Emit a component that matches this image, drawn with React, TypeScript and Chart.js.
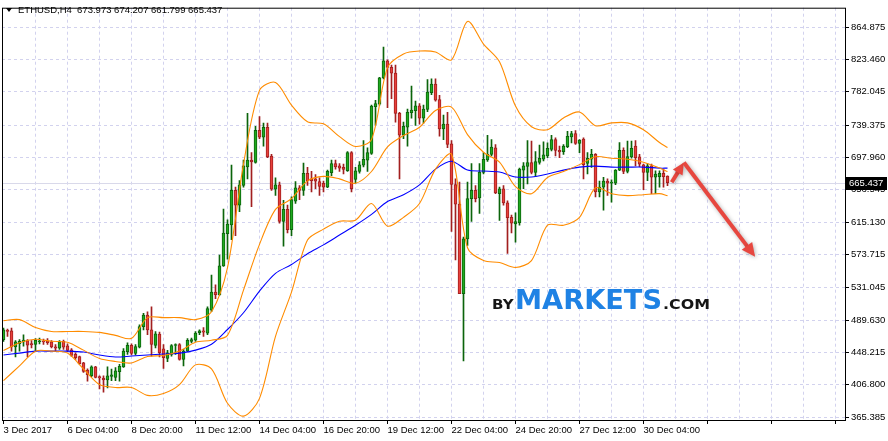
import React, { useEffect, useRef } from 'react';
import { Chart, registerables } from 'chart.js';

Chart.register(...registerables);

// ---------- data ----------
const opens = [464.5,476.7,475.9,455.3,459.5,461.6,463.3,459.5,458.3,462.0,
462.4,462.4,461.6,455.3,453.6,462.4,456.6,451.5,445.6,442.7,
434.7,425.5,418.3,429.7,417.1,415.4,412.9,417.5,416.2,423.4,
429.7,449.0,457.4,446.9,454.9,481.3,496.0,477.1,457.0,471.7,
452.8,440.6,445.6,457.0,458.3,439.3,449.9,462.4,463.7,473.4,
475.9,472.9,502.4,525.5,522.1,559.1,600.2,611.6,655.7,636.8,
662.0,685.9,694.4,691.4,732.6,723.8,736.4,699.8,657.4,662.8,
615.8,631.3,605.3,641.8,659.1,655.7,677.5,670.4,670.4,667.0,
664.9,659.9,678.4,690.1,687.2,685.1,680.9,704.0,669.6,680.1,
688.1,694.4,703.2,762.8,766.2,799.8,821.6,813.2,806.1,754.4,
726.3,736.8,755.2,757.8,764.1,748.1,759.5,780.9,791.8,772.1,
734.3,740.6,715.4,663.3,638.1,523.4,593.5,645.2,655.7,646.0,
678.8,694.8,701.9,710.3,651.5,657.8,639.8,621.3,612.9,614.5,
681.7,686.4,691.4,678.8,691.4,695.6,699.8,708.2,720.8,707.0,
705.3,711.6,724.2,728.4,715.8,721.5,690.1,695.6,701.9,653.6,
659.9,667.5,665.0,664.9,681.7,706.9,680.1,698.6,712.4,698.6,
688.5,678.8,687.2,672.5,673.3,677.5,673.973];

const highs = [479.2,478.0,479.2,463.3,464.5,470.8,464.5,463.3,465.8,466.6,
465.4,465.8,463.3,458.3,463.3,464.1,459.1,453.2,447.7,443.5,
435.6,427.2,431.0,430.5,418.3,418.3,429.7,426.7,428.8,433.0,
453.2,460.3,459.1,458.3,483.4,498.1,500.2,506.5,475.0,474.2,
458.3,450.7,458.3,459.1,459.5,452.0,465.8,466.6,475.0,477.1,
480.1,506.5,547.3,534.7,572.9,631.7,617.9,688.0,659.9,668.3,
694.4,754.4,704.0,737.6,750.2,741.8,741.8,701.9,671.7,666.2,
643.1,636.8,647.3,667.0,662.0,690.6,685.1,680.1,675.9,671.7,
667.5,681.8,694.4,694.4,690.1,689.3,705.3,705.3,685.1,692.7,
719.6,710.3,764.9,771.2,800.6,839.3,822.9,816.2,816.2,755.7,
743.1,759.9,789.3,770.0,767.0,764.9,797.7,798.5,798.5,777.5,
752.3,755.7,719.6,670.4,666.2,596.0,666.2,690.1,662.0,690.1,
704.0,726.3,720.8,714.5,659.9,662.0,642.3,624.2,627.1,684.3,
691.4,719.6,718.7,705.3,713.7,717.9,716.6,726.3,722.9,712.4,
714.5,731.3,731.3,732.2,720.8,722.9,704.0,708.2,702.7,667.5,
672.5,670.4,669.1,682.5,717.0,710.3,718.7,718.7,719.6,702.0,
689.3,690.1,689.3,680.9,680.9,683.0,674.207];

const lows = [462.4,468.7,449.9,442.3,449.9,456.1,442.3,454.0,449.9,459.1,
458.3,458.3,454.0,449.9,452.0,452.0,449.0,443.1,439.3,433.0,
422.5,411.2,417.1,415.4,401.5,397.3,402.8,412.0,412.0,411.2,
428.8,445.6,444.8,444.8,454.0,477.1,470.8,443.5,454.0,442.3,
427.6,436.4,443.5,445.6,438.1,430.9,449.0,460.3,462.4,470.8,
468.7,470.8,500.3,517.1,521.3,558.2,567.5,592.7,597.7,628.4,
659.9,670.4,634.7,690.6,722.1,712.4,697.7,655.7,649.4,613.7,
584.3,601.1,597.7,638.9,643.9,649.4,662.0,653.6,657.8,649.4,
653.6,659.1,674.6,683.0,680.1,676.7,680.1,653.6,664.9,677.6,
685.9,680.1,701.9,739.7,764.9,798.5,761.6,773.3,743.1,670.4,
722.1,712.4,748.1,738.9,740.6,741.8,756.5,778.4,770.0,725.0,
720.8,710.3,603.2,566.6,523.4,437.2,585.1,615.8,641.0,626.3,
676.7,692.7,699.8,651.5,617.1,636.8,575.0,601.1,589.3,611.2,
657.8,664.1,676.7,673.3,689.3,693.5,697.7,706.1,699.8,697.7,
701.9,710.3,716.6,714.5,704.0,670.4,676.7,685.1,647.3,647.3,
630.5,649.4,640.6,663.0,681.0,677.0,678.0,697.0,687.2,686.0,
656.6,668.3,651.5,651.5,659.9,659.9,661.799];

const closes = [477.1,475.0,455.3,461.6,462.4,464.1,457.4,457.8,463.7,462.9,
461.6,460.8,455.3,453.6,461.6,454.9,450.7,444.4,441.4,433.9,
423.8,419.6,429.7,416.2,415.4,412.9,418.3,419.6,424.6,430.5,
449.9,457.4,446.9,455.7,481.3,496.0,477.1,458.3,472.1,447.7,
441.4,447.7,457.0,458.3,439.3,449.9,463.7,464.5,472.9,475.9,
474.2,504.4,525.5,522.1,559.1,601.1,612.4,655.7,636.8,662.8,
687.2,694.4,692.2,732.6,723.8,736.4,698.6,657.4,662.8,615.8,
631.3,605.3,643.9,659.1,655.7,677.5,668.3,668.3,667.5,660.7,
659.9,680.1,690.1,685.9,684.3,682.6,704.0,657.8,680.9,688.5,
695.6,704.0,763.7,767.0,799.8,821.6,813.2,805.7,754.4,726.3,
737.6,755.7,758.6,764.1,748.1,759.9,781.7,791.8,771.2,734.3,
740.6,714.5,663.3,638.1,523.4,593.5,645.2,655.7,645.2,678.8,
695.6,701.9,711.1,652.3,657.8,639.8,620.8,613.7,615.8,683.0,
687.2,691.4,678.8,692.7,696.9,701.1,709.5,720.8,707.0,704.9,
712.4,725.0,728.4,715.8,720.0,688.5,696.9,701.9,653.6,659.9,
667.5,665.0,666.2,681.7,706.9,680.1,699.0,709.5,697.7,689.3,
678.8,687.2,672.5,676.7,677.5,673.3,665.437];

// indicator readings, sampled at these bar indices
const bandIndex = [0,4,8,12,16,20,24,28,32,36,40,44,48,52,56,60,64,68,72,76,80,84,88,92,96,100,104,108,112,116,120,124,128,132,136,140,144,148,152,156,160,164,166];
const upperBand = [488.9,490.2,480.1,475.0,475.0,475.0,473.8,470.0,466.2,492.7,492.7,492.7,490.2,500.2,556.9,689.3,783.8,793.9,764.9,743.5,741.0,724.6,712.0,720.8,812.9,830.5,834.2,833.0,822.9,872.1,843.1,820.4,763.7,737.2,733.4,748.5,756.1,738.5,742.2,742.2,733.4,717.0,710.7];
const middleBand = [450.5,460.6,465.0,462.4,461.2,451.1,440.4,436.6,434.7,442.9,444.2,449.9,461.2,463.7,470.0,528.0,586.6,631.3,645.2,667.9,673.6,670.4,664.8,679.9,711.4,725.9,736.6,758.0,762.4,727.2,704.5,691.9,660.4,651.5,672.3,679.8,688.7,698.8,696.9,695.6,691.8,684.3,679.9];
const lowerBand = [412.0,430.9,449.8,449.8,447.3,427.1,407.0,403.2,403.2,393.1,395.6,407.0,432.2,427.1,383.0,366.6,389.3,468.7,525.4,592.2,606.1,616.2,617.5,638.9,609.9,621.2,638.9,683.0,701.9,582.2,565.8,563.3,557.0,565.8,611.1,611.1,621.2,659.0,651.5,649.0,650.2,651.5,649.0];
const maLine = [444.8,447.3,449.8,449.8,449.8,448.6,444.8,442.3,443.5,444.8,446.1,447.3,451.1,458.6,477.5,499.0,526.7,549.4,560.7,574.6,585.9,598.5,611.1,625.0,641.4,650.2,662.8,683.0,693.1,681.7,680.5,679.2,672.9,672.9,676.7,681.7,685.5,686.8,685.5,685.5,685.5,684.2,684.2];

const xTickLabels = ['3 Dec 2017','6 Dec 04:00','8 Dec 20:00','11 Dec 12:00','14 Dec 04:00','16 Dec 20:00','19 Dec 12:00','22 Dec 04:00','24 Dec 20:00','27 Dec 12:00','30 Dec 04:00'];
const yTickValues = [864.875,823.460,782.045,739.375,697.960,656.545,615.130,573.715,531.045,489.630,448.215,406.800,365.385];
const yTickLabels = ['864.875','823.460','782.045','739.375','697.960','656.545','615.130','573.715','531.045','489.630','448.215','406.800','365.385'];

const symbolTitle = 'ETHUSD,H4';
const quoteValues = ['673.973','674.207','661.799','665.437'];
const lastPrice = 665.437;
const lastPriceLabel = '665.437';
const arrowPoints = [
  { x: 167.05, y: 666.2 },
  { x: 170.1, y: 691.4 },
  { x: 187.9, y: 570.8 },
];
const logoParts = ['BY', 'MARKETS', '.COM'];

// ---------- styles ----------
const FONT = '"Liberation Sans", Arial, sans-serif';
const GRID = '#d2d2ee';
const UP_FILL = '#1faa1f';
const UP_LINE = '#0b640b';
const DN_FILL = '#e8403b';
const DN_LINE = '#a21f1f';

function drawArrow(ctx: CanvasRenderingContext2D, a: any, b: any, head: number) {
  const ang = Math.atan2(b.y - a.y, b.x - a.x);
  const bx = b.x - Math.cos(ang) * head * 0.8;
  const by = b.y - Math.sin(ang) * head * 0.8;
  ctx.beginPath();
  ctx.moveTo(a.x, a.y);
  ctx.lineTo(bx, by);
  ctx.stroke();
  ctx.beginPath();
  ctx.moveTo(b.x, b.y);
  ctx.lineTo(b.x - Math.cos(ang - 0.45) * head, b.y - Math.sin(ang - 0.45) * head);
  ctx.lineTo(b.x - Math.cos(ang + 0.45) * head, b.y - Math.sin(ang + 0.45) * head);
  ctx.closePath();
  ctx.fill();
}

function fitText(ctx: CanvasRenderingContext2D, text: string, x: number, base: number, w: number, font: string, color: string) {
  ctx.save();
  ctx.font = font;
  const mw = ctx.measureText(text).width;
  ctx.translate(x, base);
  ctx.scale(w / mw, 1);
  ctx.fillStyle = color;
  ctx.textAlign = 'left';
  ctx.textBaseline = 'alphabetic';
  ctx.fillText(text, 0, 0);
  ctx.restore();
}

const overlay = {
  id: 'overlay',
  beforeDraw(chart: any) {
    const ctx = chart.ctx;
    ctx.save();
    ctx.fillStyle = '#ffffff';
    ctx.fillRect(0, 0, chart.width, chart.height);
    ctx.restore();
  },
  beforeDatasetsDraw(chart: any) {
    const { ctx, chartArea, scales } = chart;
    const y = Math.round(scales.y.getPixelForValue(lastPrice)) + 0.5;
    ctx.save();
    ctx.strokeStyle = '#d9d9ea';
    ctx.lineWidth = 1;
    ctx.beginPath();
    ctx.moveTo(chartArea.left, y);
    ctx.lineTo(chartArea.right, y);
    ctx.stroke();
    ctx.restore();
  },
  afterDatasetsDraw(chart: any) {
    const { ctx, chartArea, scales } = chart;
    ctx.save();
    // frame
    ctx.strokeStyle = '#000';
    ctx.lineWidth = 1;
    ctx.strokeRect(chartArea.left + 0.5, chartArea.top + 0.5, chartArea.right - chartArea.left, chartArea.bottom - chartArea.top);

    // title
    ctx.fillStyle = '#000';
    ctx.beginPath();
    ctx.moveTo(6, 8);
    ctx.lineTo(12, 8);
    ctx.lineTo(9, 12);
    ctx.closePath();
    ctx.fill();
    ctx.font = `9.5px ${FONT}`;
    ctx.textBaseline = 'middle';
    ctx.textAlign = 'left';
    ctx.fillText(`${symbolTitle}  ${quoteValues.join(' ')}`, 18, 10);

    // last price box
    const py = scales.y.getPixelForValue(lastPrice);
    ctx.fillStyle = '#000';
    ctx.fillRect(chartArea.right + 1, Math.round(py) - 6, 41, 13);
    ctx.fillStyle = '#fff';
    ctx.fillText(lastPriceLabel, chartArea.right + 4, Math.round(py) + 0.5);

    // logo
    fitText(ctx, logoParts[0], 492, 308.5, 21.5, `bold 14px "DejaVu Sans"`, '#151515');
    fitText(ctx, logoParts[1], 515, 308.5, 147, `bold 26px "DejaVu Sans"`, '#1f82e4');
    fitText(ctx, logoParts[2], 663, 308.5, 47, `bold 14px "DejaVu Sans"`, '#151515');

    // arrows
    const pts = arrowPoints.map((p) => ({ x: scales.x.getPixelForValue(p.x), y: scales.y.getPixelForValue(p.y) }));
    ctx.shadowColor = 'rgba(0,0,0,0.3)';
    ctx.shadowBlur = 4;
    ctx.shadowOffsetX = 1;
    ctx.shadowOffsetY = 1;
    ctx.strokeStyle = '#e7473f';
    ctx.fillStyle = '#e7473f';
    ctx.lineWidth = 4;
    ctx.lineCap = 'butt';
    drawArrow(ctx, pts[0], pts[1], 13);
    drawArrow(ctx, pts[1], pts[2], 15);
    ctx.restore();
  },
};

export default function App() {
  const ref = useRef<HTMLCanvasElement | null>(null);

  useEffect(() => {
    if (!ref.current) return;
    const up = closes.map((c, i) => c >= opens[i]);
    const lineDs = (label: string, vals: number[], color: string) => ({
      type: 'line' as const,
      label,
      data: bandIndex.map((x, k) => ({ x, y: vals[k] })),
      borderColor: color,
      borderWidth: 1.1,
      pointRadius: 0,
      tension: 0.3,
      fill: false,
      order: 0,
    });
    const chart = new Chart(ref.current, {
      type: 'line',
      data: {
        datasets: [
          lineDs('upper', upperBand, '#ff8c00'),
          lineDs('middle', middleBand, '#ff8c00'),
          lineDs('lower', lowerBand, '#ff8c00'),
          lineDs('ma', maLine, '#0000ff'),
          {
            type: 'bar',
            label: 'wicks',
            data: opens.map((_, i) => ({ x: i, y: [lows[i], highs[i]] })) as any,
            backgroundColor: up.map((u) => (u ? UP_LINE : DN_LINE)),
            borderWidth: 0,
            barThickness: 1,
            grouped: false,
            order: 2,
          } as any,
          {
            type: 'bar',
            label: 'bodies',
            data: opens.map((o, i) => ({ x: i, y: [o, closes[i]] })) as any,
            backgroundColor: up.map((u) => (u ? UP_FILL : DN_FILL)),
            borderColor: up.map((u) => (u ? UP_LINE : DN_LINE)),
            borderWidth: 1,
            borderSkipped: false,
            barThickness: 3,
            grouped: false,
            order: 1,
          } as any,
        ],
      },
      options: {
        animation: false,
        responsive: false,
        devicePixelRatio: 1,
        layout: { padding: { left: 2, top: 1, right: 0, bottom: 0 } },
        plugins: { legend: { display: false }, tooltip: { enabled: false }, title: { display: false } },
        scales: {
          x: {
            type: 'linear',
            position: 'bottom',
            min: -0.375,
            max: 210.375,
            offset: false,
            afterBuildTicks: (s: any) => {
              const t = [];
              for (let v = 0; v <= 208; v += 8) t.push({ value: v });
              s.ticks = t;
            },
            afterFit: (s: any) => {
              s.height = 21;
            },
            ticks: {
              autoSkip: false,
              maxRotation: 0,
              minRotation: 0,
              align: 'start',
              padding: 1,
              color: '#000',
              font: { family: FONT, size: 9.5 },
              callback: (v: any) => (v % 16 === 0 && xTickLabels[v / 16] ? xTickLabels[v / 16] : ''),
            },
            grid: {
              offset: false,
              color: (c: any) => (c.tick && c.tick.value === 0 ? 'rgba(0,0,0,0)' : GRID),
              lineWidth: 1,
              tickLength: 4,
              tickColor: (c: any) => (c.tick && c.tick.value % 16 === 0 ? '#000' : 'rgba(0,0,0,0)'),
              tickBorderDash: [],
            },
            border: { display: false, dash: [3, 3] },
          } as any,
          y: {
            type: 'linear',
            position: 'right',
            min: 361.6,
            max: 889.7,
            afterBuildTicks: (s: any) => {
              s.ticks = yTickValues.map((v) => ({ value: v }));
            },
            afterFit: (s: any) => {
              s.width = 43;
            },
            ticks: {
              padding: 2,
              color: '#000',
              font: { family: FONT, size: 9.5 },
              callback: (_v: any, i: number) => yTickLabels[i],
            },
            grid: {
              color: GRID,
              lineWidth: 1,
              tickLength: 4,
              tickColor: '#000',
              tickBorderDash: [],
            },
            border: { display: false, dash: [3, 3] },
          } as any,
        },
      },
      plugins: [overlay],
    });
    return () => chart.destroy();
  }, []);

  return (
    <canvas
      ref={ref}
      width={888}
      height={441}
      style={{ position: 'fixed', left: 0, top: 0, width: 888, height: 441, background: '#fff' }}
    />
  );
}
